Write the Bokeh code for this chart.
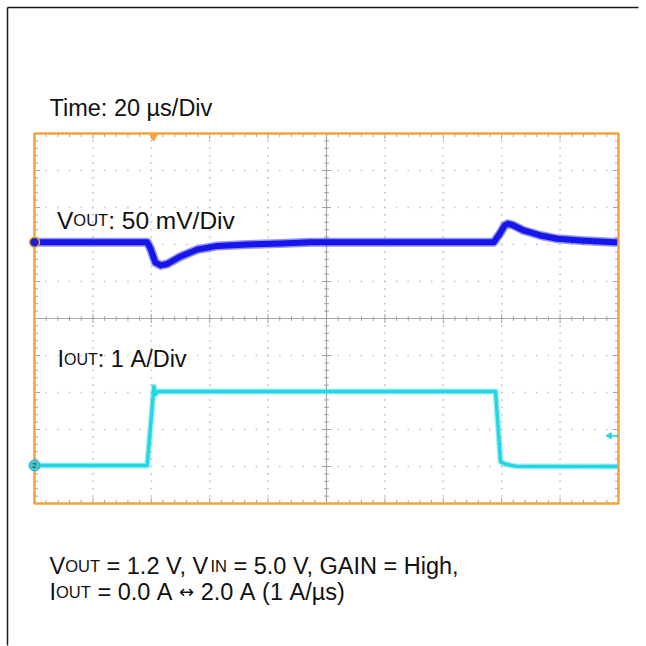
import math
import numpy as np
from bokeh.plotting import figure
from bokeh.models import Range1d, ColumnDataSource
from bokeh.core.properties import value
from bokeh.embed import file_html
from bokeh.resources import INLINE

# ---------------- data (read from the scope capture) ----------------
time_per_div_us = 20
n_div = 10
vout_mv_per_div = 50
iout_a_per_div = 1
vout_ref_div = 2.06      # CH1 ground marker position (divisions from centre)
iout_ref_div = -3.97     # CH2 ground marker position

vout_t_us = [0, 38.6, 39.7, 41.4, 43.2, 45.5, 50.0, 55.8, 62.7, 72.9, 84.2, 94.5,
             157.3, 159.6, 161.0, 162.0, 163.7, 167.5, 173.3, 179.1, 187.0, 198.3, 200]
vout_mv = [0, 0, -8.4, -27.3, -31.3, -29.3, -19.2, -9.7, -4.9, -3.0, -1.6, 0,
           0, 13.2, 22.7, 25.0, 23.4, 16.0, 9.2, 4.7, 2.4, 0, 0]

iout_t_us = [0, 38.6, 40.9, 41.4, 42.3, 157.9, 159.6, 161.3, 164.7, 200]
iout_a = [0, 0, 2.13, 1.92, 2.0, 2.0, 0.1, 0.03, -0.02, -0.03]

trigger_t_us = 40.8
trigger_level_a = 0.8

time_label = "Time: 20 µs/Div"
ch1_label = [("V", "b"), ("OUT", "s"), (": 50 mV/Div", "b")]
ch2_label = [("I", "b"), ("OUT", "s"), (": 1 A/Div", "b")]
cond_line1 = [("V", "b"), ("OUT", "s"), (" = 1.2 V, V", "b"), ("IN", "s"),
              (" = 5.0 V, GAIN = High,", "b")]
cond_line2 = [("I", "b"), ("OUT", "s"), (" = 0.0 A ", "b"), ("↔", "a"),
              (" 2.0 A (1 A/µs)", "b")]

# ---------------- layout ----------------
W = H = 646
PAGE = 0
SC_L, SC_R, SC_T, SC_B = 34, 618, 133, 503     # scope area, page px
PX_US = (SC_R - SC_L) / (time_per_div_us * n_div)
PX_DIV = (SC_B - SC_T) / n_div
Y_MID = (SC_T + SC_B) / 2
T_END = time_per_div_us * n_div


def px2x(px):
    return (px - SC_L) / PX_US


def px2y(py):
    return (Y_MID - py) / PX_DIV


x0, x1 = px2x(PAGE), px2x(PAGE + W)
y1, y0 = px2y(PAGE), px2y(PAGE + H)

ORANGE = "#F2A33A"
BLUE = "#1515EC"
CYAN = "#22D6E4"
TICK = "#A2A2A2"
DOT = "#C4C4C4"

p = figure(width=W, height=H, x_range=Range1d(x0, x1), y_range=Range1d(y0, y1),
           x_axis_type=None, y_axis_type=None, toolbar_location=None,
           output_backend="svg", title=None, outline_line_color=None,
           outline_line_alpha=0,
           background_fill_color="white", border_fill_color="white",
           min_border=0, min_border_left=0, min_border_right=0,
           min_border_top=0, min_border_bottom=0)

# outer frame lines (top and left)
p.line([px2x(7), px2x(638)], [px2y(7)] * 2, line_color="#1a1a1a", line_width=1.5)
p.line([px2x(7)] * 2, [px2y(H - 1), px2y(7)], line_color="#1a1a1a", line_width=1.5)

# ---------------- graticule ----------------
half = n_div / 2
major_x = [time_per_div_us * k for k in range(1, n_div) if k != n_div // 2]
major_y = [k - half for k in range(1, n_div) if k != n_div // 2]
minor_x = [time_per_div_us * 0.2 * k for k in range(1, 5 * n_div)]
minor_y = [-half + 0.2 * k for k in range(1, 5 * n_div)]

dx, dy = [], []
for gx in major_x:
    for my in minor_y:
        dx.append(gx); dy.append(my)
for gy in major_y:
    for mx in minor_x:
        dx.append(mx); dy.append(gy)
p.scatter(dx, dy, marker="square", size=1.6, fill_color=DOT, line_color=None)

# centre lines
p.segment(x0=[T_END / 2, 0], y0=[-half, 0], x1=[T_END / 2, T_END], y1=[half, 0],
          line_color="#A8A8A8", line_width=1.2)

# ticks
sx0, sy0, sx1, sy1 = [], [], [], []
for i, mx in enumerate(minor_x):
    L = (5.5 if (i + 1) % 5 == 0 else 3.5) / PX_DIV
    sx0 += [mx, mx]; sx1 += [mx, mx]
    sy0 += [half, -half]; sy1 += [half - L, -half + L]
    c = (4.5 if (i + 1) % 5 == 0 else 2.5) / PX_DIV
    sx0.append(mx); sx1.append(mx); sy0.append(-c); sy1.append(c)
for i, my in enumerate(minor_y):
    L = (5.5 if (i + 1) % 5 == 0 else 3.5) / PX_US
    sy0 += [my, my]; sy1 += [my, my]
    sx0 += [0, T_END]; sx1 += [L, T_END - L]
    c = (4.5 if (i + 1) % 5 == 0 else 2.5) / PX_US
    sy0.append(my); sy1.append(my); sx0.append(T_END / 2 - c); sx1.append(T_END / 2 + c)
p.segment(x0=sx0, y0=sy0, x1=sx1, y1=sy1, line_color=TICK, line_width=1)

# ---------------- traces ----------------
vout_y = vout_ref_div + np.array(vout_mv) / vout_mv_per_div
iout_y = iout_ref_div + np.array(iout_a) / iout_a_per_div

p.line(vout_t_us, vout_y, line_color=BLUE, line_width=9, line_alpha=0.45, line_join="round")
p.line(vout_t_us, vout_y, line_color=BLUE, line_width=6, line_join="round")
p.line(iout_t_us, iout_y, line_color=CYAN, line_width=6, line_alpha=0.4, line_join="round")
p.line(iout_t_us, iout_y, line_color=CYAN, line_width=3.5, line_join="round")

# scope border
p.quad(left=[0], right=[T_END], bottom=[-half], top=[half], fill_color=None,
       line_color=ORANGE, line_width=2.5)

# markers
p.scatter([0], [vout_ref_div], marker="circle", size=10, fill_color="#2020D0",
          line_color=ORANGE, line_width=1.5)
p.scatter([0], [iout_ref_div], marker="circle", size=11, fill_color="#44C8D6",
          line_color="#2AA8B8", line_width=1)
p.text([0], [iout_ref_div], text=["2"], text_font_size="8px", text_align="center",
       text_baseline="middle", text_color="#333333", text_font=value("Liberation Sans"))
p.scatter([trigger_t_us], [half - 3 / PX_DIV], marker="inverted_triangle", size=8,
          fill_color=ORANGE, line_color=ORANGE)
lvl = iout_ref_div + trigger_level_a / iout_a_per_div
p.segment(x0=[T_END - 11 / PX_US], y0=[lvl], x1=[T_END], y1=[lvl],
          line_color=CYAN, line_width=1.5)
p.scatter([T_END - 9 / PX_US], [lvl], marker="triangle", angle=math.pi / 2, size=6,
          fill_color=CYAN, line_color=CYAN)

# ---------------- texts ----------------
WID = {' ': 278, '(': 333, ')': 333, ',': 278, '.': 278, '/': 278, ':': 278, '=': 584,
       'A': 667, 'D': 722, 'G': 778, 'H': 722, 'I': 278, 'N': 722, 'O': 778, 'T': 611,
       'U': 722, 'V': 667, 'e': 556, 'g': 556, 'h': 556, 'i': 222, 'm': 833, 's': 500,
       'v': 500, 'µ': 576, '↔': 838}
for d in "0123456789":
    WID[d] = 556

rows = dict(x=[], y=[], text=[], fs=[], font=[])


def add_text(pieces, x_px, base_px, big, small):
    x = x_px
    for txt, kind in pieces:
        sz = {"b": big, "s": small, "a": 18}[kind]
        rows["x"].append(px2x(x)); rows["y"].append(px2y(base_px))
        rows["text"].append(txt.replace(" ", "\u00a0")); rows["fs"].append(f"{sz}px")
        rows["font"].append("DejaVu Sans" if kind == "a" else "Liberation Sans")
        x += sum(WID.get(ch, 556) for ch in txt) / 1000 * sz


add_text([(time_label, "b")], 49, 107, 23.5, 16)
add_text(ch1_label, 56.5, 219.5, 24.5, 16.5)
add_text(ch2_label, 57, 358.5, 23.5, 16)
add_text(cond_line1, 49, 565, 23.5, 16.5)
add_text(cond_line2, 49, 591, 23.5, 16.5)

p.text(x="x", y="y", text="text", text_font_size="fs", source=ColumnDataSource(rows),
       text_font="font", text_align="left",
       text_baseline="alphabetic", text_color="#111111")

open("out.html", "w").write(file_html(p, INLINE))
